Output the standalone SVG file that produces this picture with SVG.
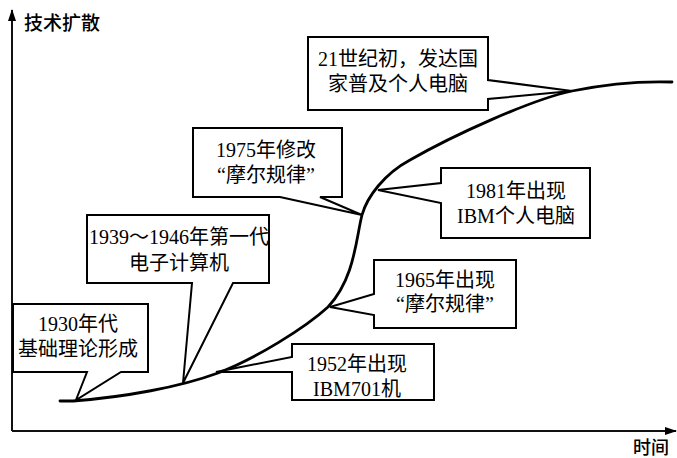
<svg xmlns="http://www.w3.org/2000/svg" width="677" height="458" viewBox="0 0 677 458">
  <defs>
    <style>
      .axis { stroke: #111; stroke-width: 2; fill: none; }
      .curve { stroke: #000; stroke-width: 2.8; fill: none; stroke-linecap: round; }
      .callout { fill: #fff; stroke: #000; stroke-width: 2; stroke-linejoin: miter; }
      .label { font-family: "Liberation Serif", "Noto Sans CJK SC", serif; font-size: 20px; fill: #000; text-anchor: middle; }
      .axis-title { font-family: "Noto Sans CJK SC", sans-serif; font-size: 19px; font-weight: 500; fill: #000; }
    </style>
    <marker id="arrow" viewBox="0 0 12 8" refX="11" refY="4" markerWidth="12" markerHeight="8" markerUnits="userSpaceOnUse" orient="auto">
      <path d="M0 0 L12 4 L0 8 Z" fill="#000"/>
    </marker>
  </defs>

  <rect width="677" height="458" fill="#fff"/>

  <!-- axes -->
  <g id="axes">
    <line class="axis" x1="12" y1="431" x2="12" y2="10" marker-end="url(#arrow)"/>
    <line class="axis" x1="12" y1="431" x2="676" y2="431" marker-end="url(#arrow)"/>
    <text class="axis-title" x="24" y="30">技术扩散</text>
    <text class="axis-title" x="633" y="454" style="font-size:18px">时间</text>
  </g>

  <!-- diffusion curve -->
  <g id="connectors">
    <path class="curve" d="M60 401 L73 401 C125 397 180 387 218 373 C255 359 305 328 328 307 C355 278 356 238 362 215 C367 197 384 174 410 160 C452 136 530 100 572 91 C606 84 640 81 672 82"/>
  </g>

  <g id="node-1930">
    <path class="callout" d="M13 304 H148 V372 H121 L76 400 L87 372 H13 Z"/>
    <text class="label" x="78" y="331">1930年代</text>
    <text class="label" x="78" y="356">基础理论形成</text>
  </g>

  <g id="node-1939">
    <path class="callout" d="M87 215 H269 V283 H233 L183 383 L192 283 H87 Z"/>
    <text class="label" x="179" y="244">1939～1946年第一代</text>
    <text class="label" x="179" y="270">电子计算机</text>
  </g>

  <g id="node-1952">
    <path class="callout" d="M292 344 H434 V400 H292 V372 L216 372 L292 357 Z"/>
    <text class="label" x="357" y="371">1952年出现</text>
    <text class="label" x="357" y="396">IBM701机</text>
  </g>

  <g id="node-1965">
    <path class="callout" d="M374 260 H516 V328 H374 V315 L330 307 L374 294 Z"/>
    <text class="label" x="445" y="287">1965年出现</text>
    <text class="label" x="445" y="311">“摩尔规律”</text>
  </g>

  <g id="node-1975">
    <path class="callout" d="M193 128 H342 V197 H320 L362 215 L280 197 H193 Z"/>
    <text class="label" x="266" y="157">1975年修改</text>
    <text class="label" x="266" y="182">“摩尔规律”</text>
  </g>

  <g id="node-1981">
    <path class="callout" d="M441 168 H590 V238 H441 V203 L378 190 L441 183 Z"/>
    <text class="label" x="516" y="198">1981年出现</text>
    <text class="label" x="516" y="223">IBM个人电脑</text>
  </g>

  <g id="node-21c">
    <path class="callout" d="M308 37 H488 V80 L572 91 L488 99 V110 H308 Z"/>
    <text class="label" x="398" y="66">21世纪初，发达国</text>
    <text class="label" x="398" y="91">家普及个人电脑</text>
  </g>
</svg>
